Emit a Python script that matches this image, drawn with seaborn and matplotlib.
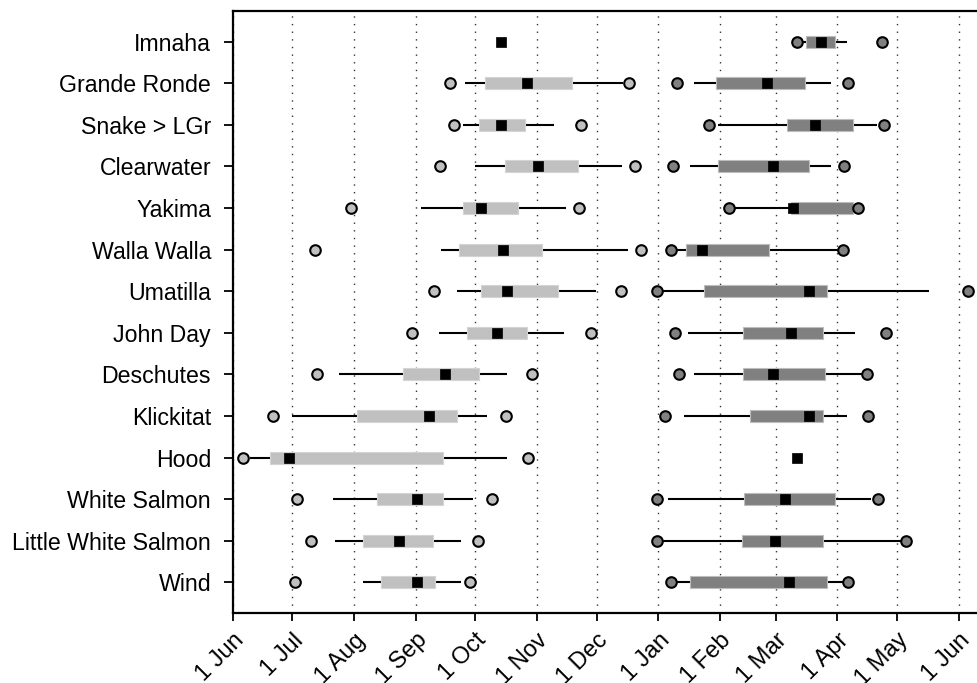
import numpy as np
import pandas as pd
import matplotlib
matplotlib.use("Agg")
import matplotlib.pyplot as plt
import seaborn as sns

# Rivers (top to bottom)
rivers = ["Imnaha", "Grande Ronde", "Snake > LGr", "Clearwater", "Yakima", "Walla Walla",
          "Umatilla", "John Day", "Deschutes", "Klickitat", "Hood", "White Salmon",
          "Little White Salmon", "Wind"]

# Days since 1 June.  Fall season (light grey)
fall_lo_pt = [np.nan, 109.3, 111.3, 104.2, 59.4, 41.4, 101.2, 90.2, 42.3, 20.1, 5.1, 32.2, 39.2, 31.2]
fall_wlo   = [np.nan, 116.8, 116.0, 121.8, 94.7, 104.7, 112.8, 103.9, 53.6, 30.0, 8.7, 50.6, 51.6, 65.7]
fall_q1    = [np.nan, 126.9, 123.9, 136.8, 115.8, 113.8, 124.9, 117.8, 85.6, 62.7, 18.8, 72.6, 65.6, 74.6]
fall_med   = [134.7, 147.8, 134.7, 153.7, 124.7, 135.8, 137.8, 132.7, 106.8, 98.7, 28.5, 92.7, 83.6, 92.7]
fall_q3    = [np.nan, 170.8, 146.8, 173.8, 143.6, 155.7, 163.5, 147.8, 123.9, 112.8, 105.6, 105.6, 100.7, 101.6]
fall_whi   = [np.nan, 196.4, 161.7, 195.6, 167.6, 198.9, 182.7, 166.7, 137.8, 127.7, 137.8, 120.7, 114.6, 114.6]
fall_hi_pt = [np.nan, 199.4, 175.3, 202.3, 174.3, 205.1, 195.2, 180.3, 150.3, 137.2, 148.3, 130.4, 123.2, 119.5]

# Spring season (dark grey)
spr_lo_pt = [283.5, 223.4, 239.3, 221.4, 249.5, 220.2, 213.5, 222.4, 224.4, 217.3, np.nan, 213.5, 213.5, 220.2]
spr_wlo   = [286.0, 232.1, 244.1, 229.9, 250.5, 220.2, 213.5, 228.7, 231.9, 226.9, np.nan, 218.8, 213.5, 220.2]
spr_q1    = [288.1, 242.8, 278.8, 243.8, 280.5, 227.9, 236.9, 256.7, 256.7, 259.9, np.nan, 256.9, 255.9, 229.7]
spr_med   = [295.8, 268.8, 292.9, 271.8, 281.8, 235.8, 289.9, 280.6, 271.8, 289.9, 283.8, 277.8, 272.8, 279.8]
spr_q3    = [302.8, 287.7, 311.8, 289.9, 311.8, 269.8, 298.9, 296.8, 297.9, 296.8, np.nan, 302.8, 296.8, 298.9]
spr_whi   = [308.7, 300.8, 323.7, 300.8, 314.5, 306.6, 350.0, 312.8, 317.0, 308.8, np.nan, 320.7, 338.5, 309.5]
spr_hi_pt = [326.6, 309.5, 327.4, 307.5, 314.5, 306.6, 369.6, 328.4, 318.7, 319.5, np.nan, 324.6, 338.5, 309.5]

tick_days = [0, 30, 61, 92, 122, 153, 183, 214, 245, 273, 304, 334, 365]
tick_labels = ["1 Jun", "1 Jul", "1 Aug", "1 Sep", "1 Oct", "1 Nov", "1 Dec",
               "1 Jan", "1 Feb", "1 Mar", "1 Apr", "1 May", "1 Jun"]

sns.set_style("white")
plt.rcParams["font.family"] = ["Liberation Sans", "DejaVu Sans"]
plt.rcParams["text.color"] = "black"
plt.rcParams["xtick.color"] = "black"
plt.rcParams["ytick.color"] = "black"
plt.rcParams["xtick.labelcolor"] = "black"
plt.rcParams["ytick.labelcolor"] = "black"

fig = plt.figure(figsize=(9.78, 6.83), dpi=100)
ax = fig.add_axes([232.6 / 978, 1 - 613.3 / 683, 1 - 232.6 / 978, (613.3 - 10.7) / 683])

y = np.arange(len(rivers))
box_h = 0.29
seasons = [
    (fall_lo_pt, fall_wlo, fall_q1, fall_med, fall_q3, fall_whi, fall_hi_pt, "#c0c0c0", "#d4d4d4"),
    (spr_lo_pt, spr_wlo, spr_q1, spr_med, spr_q3, spr_whi, spr_hi_pt, "#808080", "#bdbdbd"),
]
for lo_pt, wlo, q1, med, q3, whi, hi_pt, col, ecol in seasons:
    wlo, q1, q3, whi = map(np.asarray, (wlo, q1, q3, whi))
    ax.hlines(y, wlo, whi, color="black", lw=1.5, zorder=2)
    ax.barh(y, q3 - q1, left=q1, height=box_h, color=col, edgecolor=ecol, lw=0.8, zorder=3)
    pts = pd.DataFrame({"day": list(lo_pt) + list(hi_pt), "row": list(y) + list(y)}).dropna()
    sns.scatterplot(data=pts, x="day", y="row", ax=ax, color=col, edgecolor="black",
                    linewidth=1.5, s=58, marker="o", zorder=4, legend=False, clip_on=False)
    meds = pd.DataFrame({"day": med, "row": y}).dropna()
    sns.scatterplot(data=meds, x="day", y="row", ax=ax, color="black", edgecolor="black",
                    linewidth=0.5, s=62, marker="s", zorder=5, legend=False)

ax.set_xlim(0, (978 - 232.6) / 1.9895)
ax.set_ylim(len(rivers) - 1 + 0.746, -0.746)
ax.set_yticks(y)
ax.set_yticklabels(rivers, fontsize=16.7)
ax.set_xticks(tick_days)
ax.set_xticklabels(tick_labels, fontsize=17, rotation=45, ha="right", va="top",
                   rotation_mode="anchor")
ax.tick_params(axis="x", pad=6, length=5.5)
ax.tick_params(axis="y", pad=9, length=6.5)
ax.tick_params(axis="both", direction="out", width=1.3, color="black",
               labelcolor="black", left=True, bottom=True)
ax.set_xlabel("")
ax.set_ylabel("")

for d in tick_days:
    ax.axvline(d, color="#333333", lw=1.0, ls=(0, (1, 4.5)), zorder=1)

for side in ["left", "bottom", "top"]:
    ax.spines[side].set_color("black")
    ax.spines[side].set_linewidth(1.6)
ax.spines["right"].set_visible(False)

fig.savefig("out.png", dpi=100)
